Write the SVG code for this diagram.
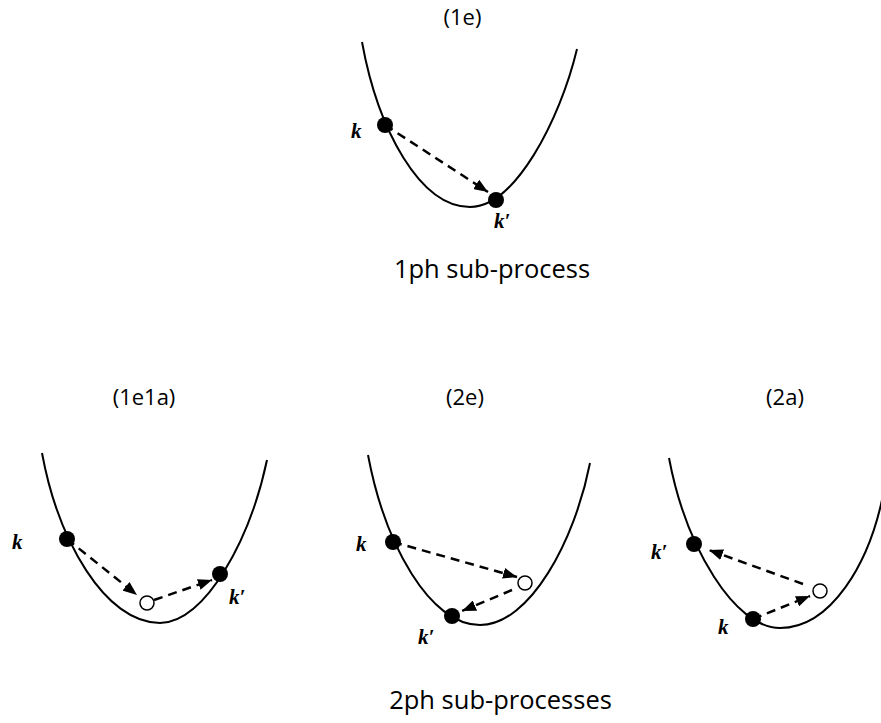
<svg xmlns="http://www.w3.org/2000/svg" width="881" height="723" viewBox="0 0 881 723">
<defs>
<style>
.curve{fill:none;stroke:#000;stroke-width:2}
.dash{fill:none;stroke:#000;stroke-width:2.5;stroke-dasharray:9 6}
.dot{fill:#000}
.open{fill:#fff;stroke:#000;stroke-width:1.5}
.title{font-family:"Open Sans","Liberation Sans",sans-serif;font-size:22px;fill:#000;text-anchor:middle}
.sub{font-family:"Open Sans","Liberation Sans",sans-serif;font-size:25.5px;fill:#000;text-anchor:middle}
.lbl{font-family:"Liberation Serif","DejaVu Serif",serif;font-size:21px;font-weight:bold;font-style:italic;fill:#000}
</style>
<marker id="ah" viewBox="0 0 14 11" refX="14" refY="5.5" markerWidth="14" markerHeight="11" markerUnits="userSpaceOnUse" orient="auto">
<path d="M0,0 L14,5.5 L0,11 z" fill="#000"/>
</marker>
</defs>

<g id="panel-1e">
<text class="title" x="462.5" y="25">(1e)</text>
<path class="curve" d="M362,42 C378,130 420,207 470,207 C515,207 560,120 577,49"/>
<g id="node-1e-k"><circle class="dot" cx="385" cy="125" r="8"/><text class="lbl" x="351" y="138">k</text></g>
<g id="node-1e-kp"><circle class="dot" cx="496" cy="200" r="8"/><text class="lbl" x="494" y="228">k′</text></g>
<text class="sub" x="492" y="278">1ph sub-process</text>
</g>

<g id="panel-1e1a">
<text class="title" x="144" y="405">(1e1a)</text>
<path class="curve" d="M42,453 C58,540 105,623 160,623 C205,623 250,540 267,460"/>
<g id="node-1e1a-k"><circle class="dot" cx="67" cy="539" r="8"/><text class="lbl" x="12" y="549">k</text></g>
<g id="node-1e1a-mid"><circle class="open" cx="147" cy="603" r="7"/></g>
<g id="node-1e1a-kp"><circle class="dot" cx="220" cy="574" r="8"/><text class="lbl" x="229" y="604">k′</text></g>
</g>

<g id="panel-2e">
<text class="title" x="465" y="405">(2e)</text>
<path class="curve" d="M368,455 C385,545 430,625 480,625 C530,625 575,540 590,463"/>
<g id="node-2e-k"><circle class="dot" cx="393" cy="542" r="8"/><text class="lbl" x="356" y="551">k</text></g>
<g id="node-2e-mid"><circle class="open" cx="525" cy="583" r="7"/></g>
<g id="node-2e-kp"><circle class="dot" cx="452" cy="616" r="8"/><text class="lbl" x="418" y="644">k′</text></g>
</g>

<g id="panel-2a">
<text class="title" x="785" y="405">(2a)</text>
<path class="curve" d="M669,458 C686,548 735,628 780,628 C830,628 870,565 884,490"/>
<g id="node-2a-kp"><circle class="dot" cx="694" cy="544" r="8"/><text class="lbl" x="651" y="559">k′</text></g>
<g id="node-2a-k"><circle class="dot" cx="753" cy="619" r="8"/><text class="lbl" x="718" y="634">k</text></g>
<g id="node-2a-mid"><circle class="open" cx="820" cy="591" r="7"/></g>
</g>

<text class="sub" x="500.5" y="709">2ph sub-processes</text>

<g id="connectors">
<path class="dash" d="M385,125 L488,192" marker-end="url(#ah)"/>
<path class="dash" d="M67,539 L137,595" marker-end="url(#ah)"/>
<path class="dash" d="M154,600 L212,580" marker-end="url(#ah)"/>
<path class="dash" d="M393,542 L517,577" marker-end="url(#ah)"/>
<path class="dash" d="M512,590 L462,611" marker-end="url(#ah)"/>
<path class="dash" d="M753,619 L810,596" marker-end="url(#ah)"/>
<path class="dash" d="M803,584 L709,550" marker-end="url(#ah)"/>
</g>
</svg>
